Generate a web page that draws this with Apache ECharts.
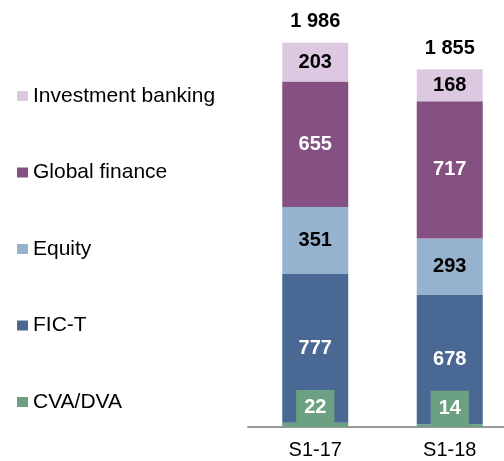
<!DOCTYPE html>
<html>
<head>
<meta charset="utf-8">
<script src="https://cdn.jsdelivr.net/npm/echarts@6/dist/echarts.min.js"></script>
<style>html,body{margin:0;padding:0;background:#fff}#c{width:504px;height:461px}</style>
</head>
<body>
<div id="c"></div>
<script>
const categories = ['S1-17', 'S1-18'];
const cvaDva = [22, 14];
const ficT = [777, 678];
const equity = [351, 293];
const globalFinance = [655, 717];
const investmentBanking = [203, 168];
const totals = ['1 986', '1 855'];

const FONT = '"Liberation Sans", Arial, sans-serif';
const chart = echarts.init(document.getElementById('c'), null, {renderer: 'canvas'});

function seg(name, data, color, txtColor) {
  return {
    name: name, type: 'bar', stack: 'a', data: data, barWidth: 66,
    itemStyle: {color: color},
    label: {show: true, position: 'inside', color: txtColor, fontFamily: FONT,
      fontWeight: 'bold', fontSize: 20}
  };
}

chart.setOption({
  animation: false,
  grid: {left: 248, width: 269, top: 6, bottom: 34, outerBoundsMode: 'none', containLabel: false},
  legend: {
    orient: 'vertical', left: 17, top: 85.5, itemGap: 55.5, padding: 0,
    itemWidth: 11, itemHeight: 10, icon: 'rect',
    data: ['Investment banking', 'Global finance', 'Equity', 'FIC-T', 'CVA/DVA'],
    textStyle: {fontFamily: FONT, fontSize: 21, color: '#000', lineHeight: 21}
  },
  xAxis: {
    type: 'category', data: categories,
    axisLine: {lineStyle: {color: '#999', width: 2}},
    axisTick: {show: false},
    axisLabel: {fontFamily: FONT, fontSize: 20, color: '#000', margin: 13}
  },
  yAxis: {type: 'value', min: 0, max: 2200, show: false, splitLine: {show: false}},
  series: [
    {
      name: 'CVA/DVA', type: 'bar', stack: 'a', data: cvaDva, barWidth: 66,
      itemStyle: {color: '#6BA083'},
      label: {show: true, position: 'inside', offset: [0, -17], color: '#fff',
        fontFamily: FONT, fontWeight: 'bold', fontSize: 20, lineHeight: 20,
        backgroundColor: '#6BA083', padding: [8, 8, 8, 8]}
    },
    seg('FIC-T', ficT, '#4A6894', '#fff'),
    seg('Equity', equity, '#96B3CE', '#000'),
    seg('Global finance', globalFinance, '#855082', '#fff'),
    seg('Investment banking', investmentBanking, '#DCC8E0', '#000'),
    {
      name: 'Total', type: 'bar', stack: 'a', data: [0, 0], barWidth: 66,
      itemStyle: {color: 'transparent'},
      label: {show: true, position: 'top', distance: 11, color: '#000',
        fontFamily: FONT, fontWeight: 'bold', fontSize: 20,
        formatter: p => totals[p.dataIndex]}
    }
  ]
});
</script>
</body>
</html>
